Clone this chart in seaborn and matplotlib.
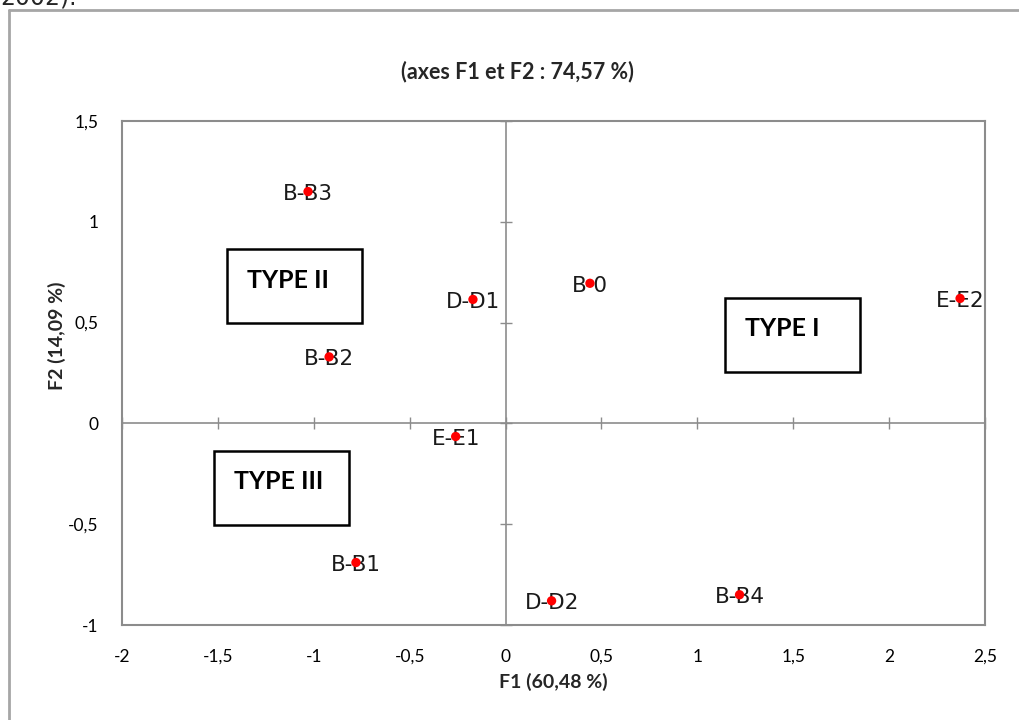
import matplotlib
matplotlib.use("Agg")
import matplotlib.pyplot as plt
import seaborn as sns
import pandas as pd
from matplotlib.patches import Rectangle

# ---- data ----
labels = ["B-B3", "D-D1", "B-0", "E-E2", "B-B2", "E-E1", "B-B1", "D-D2", "B-B4"]
f1 = [-1.03, -0.17, 0.44, 2.37, -0.92, -0.26, -0.78, 0.24, 1.22]
f2 = [1.15, 0.615, 0.695, 0.62, 0.33, -0.065, -0.69, -0.88, -0.85]

x_ticks = [-2, -1.5, -1, -0.5, 0, 0.5, 1, 1.5, 2, 2.5]
y_ticks = [-1, -0.5, 0, 0.5, 1, 1.5]

title = "(axes F1 et F2 : 74,57 %)"
xlabel = "F1 (60,48 %)"
ylabel = "F2 (14,09 %)"

# annotation boxes: (text, x0, y0, x1, y1)
type_names = ["TYPE II", "TYPE I", "TYPE III"]
box_x0 = [-1.455, 1.144, -1.522]
box_x1 = [-0.746, 1.847, -0.816]
box_y0 = [0.50, 0.257, -0.502]
box_y1 = [0.864, 0.622, -0.137]

df = pd.DataFrame({"F1": f1, "F2": f2, "label": labels})

sns.set_theme(style="white")
plt.rcParams["font.family"] = ["Lato", "DejaVu Sans"]

fig = plt.figure(figsize=(10.2, 7.2), dpi=100)
grey = "#8c8c8c"

pos = [122 / 1020, 1 - 625 / 720, 863 / 1020, 504 / 720]
ax = fig.add_axes(pos)
ax.set_xlim(x_ticks[0], x_ticks[-1])
ax.set_ylim(y_ticks[0], y_ticks[-1])

# overlay axes with spines through zero
ax2 = fig.add_axes(pos, sharex=ax, sharey=ax)
ax2.patch.set_alpha(0)
ax2.spines["left"].set_position(("data", 0))
ax2.spines["bottom"].set_position(("data", 0))
ax2.spines["top"].set_visible(False)
ax2.spines["right"].set_visible(False)
for s in ("left", "bottom"):
    ax2.spines[s].set_color(grey)
    ax2.spines[s].set_linewidth(1.2)
ax2.set_xticks(x_ticks)
ax2.set_yticks(y_ticks)
ax2.tick_params(axis="both", direction="inout", length=8, width=1, color=grey,
                labelbottom=False, labelleft=False, bottom=True, left=True)

sns.scatterplot(data=df, x="F1", y="F2", ax=ax2, color="#ff0000", s=45,
                edgecolor="none", zorder=5, legend=False)
ax2.set_xlabel("")
ax2.set_ylabel("")
ax2.set_xlim(x_ticks[0], x_ticks[-1])
ax2.set_ylim(y_ticks[0], y_ticks[-1])

for xv, yv, lab in zip(f1, f2, labels):
    ax2.text(xv, yv - 0.012, lab, ha="center", va="center", fontsize=15.5,
             family="DejaVu Sans", color="#1a1a1a", zorder=4)

for name, x0, x1, y0, y1 in zip(type_names, box_x0, box_x1, box_y0, box_y1):
    ax2.add_patch(Rectangle((x0, y0), x1 - x0, y1 - y0, fill=False,
                            edgecolor="black", linewidth=1.8, zorder=3))
    ax2.text(x0 + (x1 - x0) * 0.15, y1 - (y1 - y0) * 0.42, name,
             ha="left", va="center", fontsize=18, fontweight="bold",
             color="black", zorder=4)

# main axes: frame + labels
for s in ax.spines.values():
    s.set_color(grey)
    s.set_linewidth(1.5)
ax.set_xticks(x_ticks)
ax.set_yticks(y_ticks)
fmt = lambda v: ("%g" % v).replace(".", ",")
ax.set_xticklabels([fmt(v) for v in x_ticks])
ax.set_yticklabels([fmt(v) for v in y_ticks])
ax.tick_params(axis="both", length=0, labelsize=12.5, colors="black")
ax.tick_params(axis="x", pad=17)
ax.tick_params(axis="y", pad=17)

fig.text(517 / 1020, 1 - 72 / 720, title, ha="center", va="center",
         fontsize=15.5, fontweight="bold")
fig.text(553 / 1020, 1 - 682 / 720, xlabel, ha="center", va="center",
         fontsize=14, fontweight="bold")
fig.text(57 / 1020, 1 - 336 / 720, ylabel, ha="center", va="center",
         rotation=90, fontsize=14, fontweight="bold")

# outer document frame and cut-off text
fig.add_artist(plt.Line2D([9 / 1020, 9 / 1020], [0, 1 - 10 / 720],
                          transform=fig.transFigure, color="#a6a6a6", lw=2))
fig.add_artist(plt.Line2D([9 / 1020, 1], [1 - 10 / 720, 1 - 10 / 720],
                          transform=fig.transFigure, color="#a6a6a6", lw=2))
fig.text(0.0, 1 - 4 / 720, "2002).", ha="left", va="baseline",
         fontsize=17, family="DejaVu Sans")

fig.savefig("out.png", dpi=100)
